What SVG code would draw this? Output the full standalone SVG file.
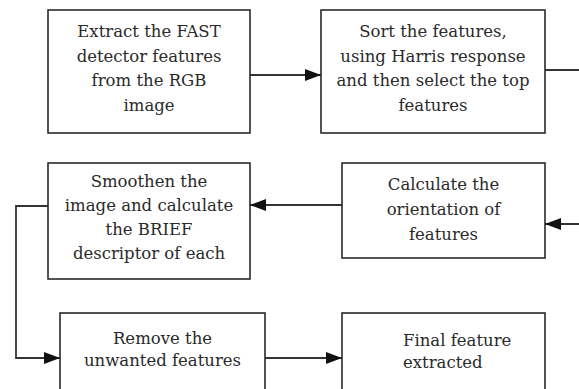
<svg xmlns="http://www.w3.org/2000/svg" width="579" height="389" viewBox="0 0 579 389">
<style>
.box{fill:#fff;stroke:#2a2a2a;stroke-width:1.6}
.t{font-family:"DejaVu Serif","Liberation Serif",serif;font-size:16.5px;fill:#2a2a2a;text-anchor:middle}
.tl{font-family:"DejaVu Serif","Liberation Serif",serif;font-size:16.5px;fill:#2a2a2a}
.c{fill:none;stroke:#333;stroke-width:1.8}
</style>
<defs>
<marker id="ah" viewBox="0 0 16 12" refX="16" refY="6" markerWidth="16" markerHeight="12" markerUnits="userSpaceOnUse" orient="auto">
<path d="M0,0 L16,6 L0,12 Z" fill="#111"/>
</marker>
</defs>
<rect width="579" height="389" fill="#fff"/>
<g id="connectors">
<path class="c" d="M250,75 H321" marker-end="url(#ah)"/>
<path class="c" d="M545,70 H579"/>
<path class="c" d="M579,224 H545" marker-end="url(#ah)"/>
<path class="c" d="M342,205 H250" marker-end="url(#ah)"/>
<path class="c" d="M48,206 H16 V358 H60" marker-end="url(#ah)"/>
<path class="c" d="M265,358 H342" marker-end="url(#ah)"/>
</g>
<g id="n1">
<rect class="box" x="48" y="10" width="202" height="123"/>
<text class="t" x="149" y="37">Extract the FAST</text>
<text class="t" x="149" y="61.5">detector features</text>
<text class="t" x="149" y="86">from the RGB</text>
<text class="t" x="149" y="110.5">image</text>
</g>
<g id="n2">
<rect class="box" x="321" y="10" width="224" height="123"/>
<text class="t" x="433" y="37">Sort the features,</text>
<text class="t" x="433" y="61.5">using Harris response</text>
<text class="t" x="433" y="86">and then select the top</text>
<text class="t" x="433" y="110.5">features</text>
</g>
<g id="n3">
<rect class="box" x="342" y="163" width="203" height="95"/>
<text class="t" x="443.5" y="190">Calculate the</text>
<text class="t" x="443.5" y="215">orientation of</text>
<text class="t" x="443.5" y="240">features</text>
</g>
<g id="n4">
<rect class="box" x="48" y="163" width="202" height="116"/>
<text class="t" x="149" y="187">Smoothen the</text>
<text class="t" x="149" y="211">image and calculate</text>
<text class="t" x="149" y="235">the BRIEF</text>
<text class="t" x="149" y="259">descriptor of each</text>
</g>
<g id="n5">
<rect class="box" x="60" y="313" width="205" height="90"/>
<text class="t" x="162.5" y="344">Remove the</text>
<text class="t" x="162.5" y="366">unwanted features</text>
</g>
<g id="n6">
<rect class="box" x="342" y="313" width="203" height="90"/>
<text class="tl" x="403" y="346">Final feature</text>
<text class="tl" x="403" y="368">extracted</text>
</g>
</svg>
